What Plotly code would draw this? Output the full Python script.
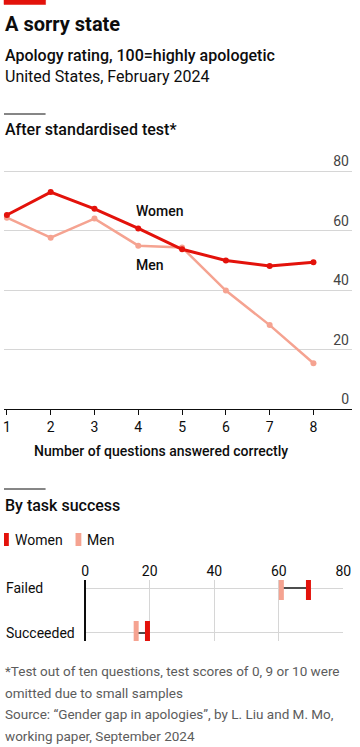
import plotly.graph_objects as go

# ---- data ----
questions = [1, 2, 3, 4, 5, 6, 7, 8]
women_rating = [65.2, 72.9, 67.3, 60.7, 53.7, 49.9, 48.1, 49.3]
men_rating = [64.3, 57.6, 64.0, 54.9, 54.3, 39.8, 28.2, 15.4]
y_ticks = [0, 20, 40, 60, 80]

task_groups = ["Failed", "Succeeded"]
task_women = [69.2, 19.3]
task_men = [60.8, 15.8]
x2_ticks = [0, 20, 40, 60, 80]

RED = "#E3120B"
PINK = "#F5A391"
GREY_TXT = "#5c5c5c"
FONT = "Roboto"
W, H = 360, 747


def py(px):
    return 1 - px / H


fig = go.Figure()

# ---- top line chart ----
fig.add_trace(go.Scatter(x=questions, y=men_rating, mode="lines+markers",
                         line=dict(color=PINK, width=2.5), marker=dict(size=6, color=PINK),
                         xaxis="x", yaxis="y", showlegend=False, cliponaxis=False))
fig.add_trace(go.Scatter(x=questions, y=women_rating, mode="lines+markers",
                         line=dict(color=RED, width=3), marker=dict(size=6, color=RED),
                         xaxis="x", yaxis="y", showlegend=False, cliponaxis=False))

# ---- dumbbell chart ----
for i, g in enumerate(task_groups):
    fig.add_trace(go.Scatter(x=[task_men[i], task_women[i]], y=[i, i], mode="lines",
                             line=dict(color="#4d4d4d", width=2),
                             xaxis="x2", yaxis="y2", showlegend=False))
fig.add_trace(go.Scatter(x=task_men, y=list(range(len(task_groups))), mode="markers",
                         marker=dict(symbol="line-ns", size=17, line=dict(color=PINK, width=5)),
                         xaxis="x2", yaxis="y2", showlegend=False))
fig.add_trace(go.Scatter(x=task_women, y=list(range(len(task_groups))), mode="markers",
                         marker=dict(symbol="line-ns", size=17, line=dict(color=RED, width=5)),
                         xaxis="x2", yaxis="y2", showlegend=False))

PX_PER_UNIT = (409 - 171) / 80.0
Y_TOP = 88
fig.update_layout(
    width=W, height=H,
    margin=dict(l=0, r=0, t=0, b=0),
    paper_bgcolor="white", plot_bgcolor="white",
    font=dict(family=FONT, size=14, color="#0d0d0d"),
    xaxis=dict(domain=[0, 1], range=[0.934, 8.88], tickvals=questions,
               showgrid=False, zeroline=False, showline=True, linecolor="#0d0d0d", linewidth=1,
               ticks="outside", ticklen=5, tickcolor="#0d0d0d", tickfont=dict(size=14),
               anchor="y"),
    yaxis=dict(domain=[py(409), py(409 - Y_TOP * PX_PER_UNIT)], range=[0, Y_TOP], tickvals=y_ticks,
               side="right", ticklabelposition="inside top", showgrid=True,
               gridcolor="#d6d6d6", gridwidth=1, zeroline=False, showline=False,
               tickfont=dict(size=14), anchor="x"),
    xaxis2=dict(domain=[84 / W, 351 / W], range=[0, 80], tickvals=x2_ticks, side="top",
                showgrid=True, gridcolor="#d6d6d6", gridwidth=1, zeroline=True,
                zerolinecolor="#0d0d0d", zerolinewidth=1.5, showline=False,
                tickfont=dict(size=14), anchor="y2"),
    yaxis2=dict(domain=[py(641), py(580)], range=[1.18, -0.18], tickvals=[0, 1],
                showticklabels=False, showgrid=True, gridcolor="#d6d6d6", gridwidth=1,
                zeroline=False, showline=False, anchor="x2"),
)

shapes = [
    dict(type="rect", xref="paper", yref="paper", x0=0, x1=43 / W, y0=py(4.5), y1=1,
         fillcolor=RED, line=dict(color=RED, width=0.5), layer="above"),
    dict(type="line", xref="paper", yref="paper", x0=0, x1=43 / W, y0=py(114), y1=py(114),
         line=dict(color="#0d0d0d", width=1)),
    dict(type="line", xref="paper", yref="paper", x0=0, x1=43 / W, y0=py(489), y1=py(489),
         line=dict(color="#0d0d0d", width=1)),
    dict(type="rect", xref="paper", yref="paper", x0=0, x1=5 / W, y0=py(546), y1=py(533),
         fillcolor=RED, line=dict(width=0)),
    dict(type="rect", xref="paper", yref="paper", x0=74 / W, x1=80 / W, y0=py(546), y1=py(533),
         fillcolor=PINK, line=dict(width=0)),
]
fig.update_layout(shapes=shapes)


def ann(text, xpx, ypx, size, weight=400, color="#0d0d0d", xanchor="left"):
    return dict(text=text, xref="paper", yref="paper", x=xpx / W, y=py(ypx),
                xanchor=xanchor, yanchor="middle", showarrow=False,
                font=dict(size=size, weight=weight, color=color, family=FONT))


annotations = [
    ann("A sorry state", -1, 24, 20, 700),
    ann("Apology rating, 100=highly apologetic", -1, 55, 16, 500),
    ann("United States, February 2024", -1, 77, 16, 400),
    ann("After standardised test*", -1, 130, 16, 500),
    ann("Number of questions answered correctly", 162, 451, 14, 500, xanchor="center"),
    ann("By task success", -1, 505, 16, 500),
    ann("Women", 9, 540, 14),
    ann("Men", 84, 540, 14),
    ann("*Test out of ten questions, test scores of 0, 9 or 10 were", -1, 671, 13.5, 400, GREY_TXT),
    ann("omitted due to small samples", -1, 693, 13.5, 400, GREY_TXT),
    ann("Source: \u201cGender gap in apologies\u201d, by L. Liu and M. Mo,", -1, 714, 13.5, 400, GREY_TXT),
    ann("working paper, September 2024", -1, 736, 13.5, 400, GREY_TXT),
    dict(text="Women", xref="x", yref="y", x=3.9, y=66.5, xanchor="left", yanchor="middle",
         showarrow=False, font=dict(size=14, weight=500)),
    dict(text="Men", xref="x", yref="y", x=3.9, y=48.4, xanchor="left", yanchor="middle",
         showarrow=False, font=dict(size=14, weight=500)),
]
for i, g in enumerate(task_groups):
    annotations.append(dict(text=g, xref="paper", yref="y2", x=0, y=i, xanchor="left",
                            yanchor="middle", showarrow=False, font=dict(size=14)))
fig.update_layout(annotations=annotations)

fig.write_html("out.html", config={"displayModeBar": False},
               post_script="document.body.style.margin='0';document.body.style.padding='0';")
